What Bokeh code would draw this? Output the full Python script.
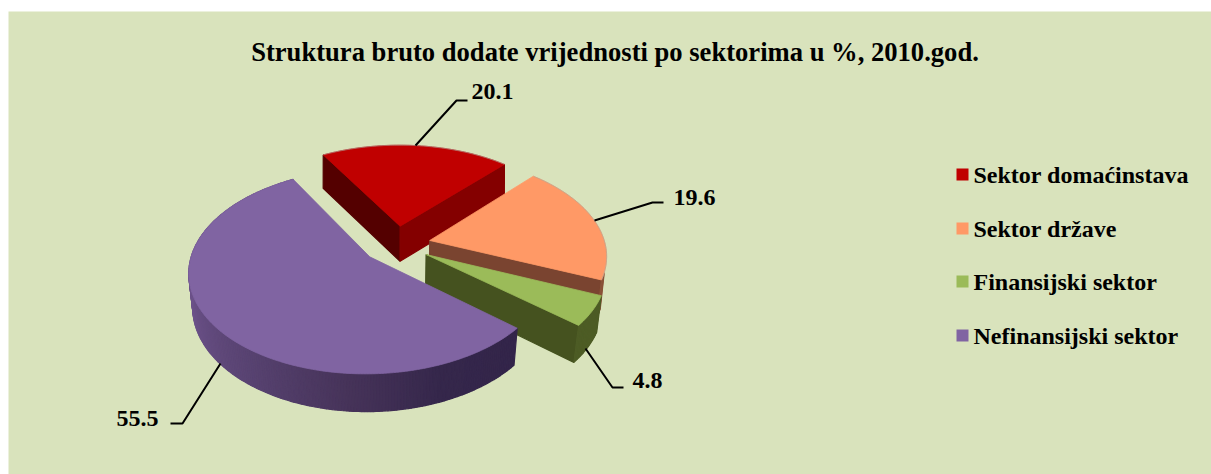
import numpy as np
from bokeh.plotting import figure
from bokeh.models import Range1d
from bokeh.core.properties import value
from bokeh.embed import file_html
from bokeh.resources import INLINE

TITLE = "Struktura bruto dodate vrijednosti po sektorima u %, 2010.god."
categories = ["Sektor domaćinstava", "Sektor države", "Finansijski sektor", "Nefinansijski sektor"]
values = [20.1, 19.6, 4.8, 55.5]
top_colors = ["#c00000", "#ff9966", "#9bbb59", "#8064a2"]

# camera / layout of the exploded 3D pie (screen pixels)
CX, CY, RX, RY = 396.0, 244.0, 175.5, 97.0
PERSP, EXPLODE, START = 0.139, 0.195, -30.0
FONT = "Liberation Serif"

p = figure(width=1211, height=474, output_backend="svg", toolbar_location=None,
           x_range=Range1d(0, 1211), y_range=Range1d(474, 0), min_border=0,
           background_fill_color="white", border_fill_color="white", outline_line_color=None)
p.axis.visible = False
p.grid.visible = False
p.quad(left=[8], right=[1211], top=[11], bottom=[474], fill_color="#d9e3bc", line_color=None)


def project(u, v):
    s = 1.0 / (1.0 - PERSP * v)
    return CX + RX * u * s, CY + RY * v * s


def lower(x, y, v):
    """Same point on the pie's underside."""
    return CX + (x - CX) * (1 - 0.015 * (1 + v)), y + 35.5 + 2.0 * v


def mix(a, b, t):
    ca = [int(a[i:i + 2], 16) for i in (1, 3, 5)]
    cb = [int(b[i:i + 2], 16) for i in (1, 3, 5)]
    return "#%02x%02x%02x" % tuple(int(round(x + (y - x) * t)) for x, y in zip(ca, cb))


def ramp(t, stops):
    for (t0, c0), (t1, c1) in zip(stops, stops[1:]):
        if t <= t1:
            return mix(c0, c1, max(0.0, (t - t0) / (t1 - t0)))
    return stops[-1][1]


def wall(pts, colors):
    """pts: list of (u, v); draws the strip below them, coloured per segment."""
    for i in range(len(pts) - 1):
        (u0, v0), (u1, v1) = pts[i], pts[i + 1]
        x0, y0 = project(u0, v0)
        x1, y1 = project(u1, v1)
        x2, y2 = lower(x1, y1, v1)
        x3, y3 = lower(x0, y0, v0)
        c = colors[i]
        p.patch([x0, x1, x2, x3], [y0, y1, y2, y3], fill_color=c, line_color=c, line_width=1.2)


PURPLE_RAMP = [(0.0, "#33254a"), (0.14, "#35274b"), (0.27, "#463359"),
               (0.42, "#574270"), (0.62, "#6c5289"), (1.0, "#6c5289")]

total = sum(values)
angle = START
for k, (val, col) in enumerate(zip(values, top_colors)):
    span = 360.0 * val / total
    a0, a1 = angle, angle + span
    angle = a1
    mid = np.radians((a0 + a1) / 2)
    ou, ov = EXPLODE * np.sin(mid), -EXPLODE * np.cos(mid)
    th = np.radians(np.linspace(a0, a1, max(12, int(span * 1.2))))
    au, av = ou + np.sin(th), ov - np.cos(th)
    arc = list(zip(au, av))
    apex = (ou, ov)

    if k == 0:
        wall([arc[0], apex], ["#540000"])
        wall([apex, arc[-1]], ["#840000"])
    elif k == 1:
        wall([apex, arc[-1]], ["#7a4430"])
        wall(arc[-6:], ["#8a5238"] * 5)
    elif k == 2:
        wall([apex, arc[-1]], ["#45521f"])
        wall(arc, ["#4d5c25"] * (len(arc) - 1))
    else:
        n = len(arc) - 1
        wall(arc, [ramp(i / n, PURPLE_RAMP) for i in range(n)])

    xs, ys = project(np.array([ou] + list(au)), np.array([ov] + list(av)))
    p.patch(list(xs), list(ys), fill_color=col, line_color=col, line_width=0.8)
    ax, ay = project(au, av)
    if k < 2:
        p.line(list(ax), list(ay), line_color="#a8a8a0", line_width=0.8, line_alpha=0.7)

# leader lines and data labels
leader_x = [[415, 456, 467], [594, 652, 663], [585, 612, 623], [220, 182, 170]]
leader_y = [[145, 100, 100], [220, 202, 202], [348, 387, 387], [363, 423, 423]]
label_x = [471, 673, 632, 116]
label_y = [91, 197, 380, 418]
for lx, ly in zip(leader_x, leader_y):
    p.line(lx, ly, line_color="black", line_width=2)
p.text(label_x, label_y, text=[f"{v:.1f}" for v in values], text_font=value(FONT),
       text_font_style="bold", text_font_size="24px", text_color="black",
       text_align="left", text_baseline="middle")

# title
p.text([614.5], [51], text=[TITLE], text_font=value(FONT), text_font_style="bold",
       text_font_size="26.6px", text_color="black", text_align="center", text_baseline="middle")

# legend
leg_y = [174, 228, 281, 335]
p.rect([962] * 4, leg_y, width=12, height=12, fill_color=top_colors, line_color=None)
p.text([973] * 4, [y + 0.5 for y in leg_y], text=categories, text_font=value(FONT),
       text_font_style="bold", text_font_size="24px", text_color="black",
       text_align="left", text_baseline="middle")

open("out.html", "w").write(file_html(p, INLINE))
